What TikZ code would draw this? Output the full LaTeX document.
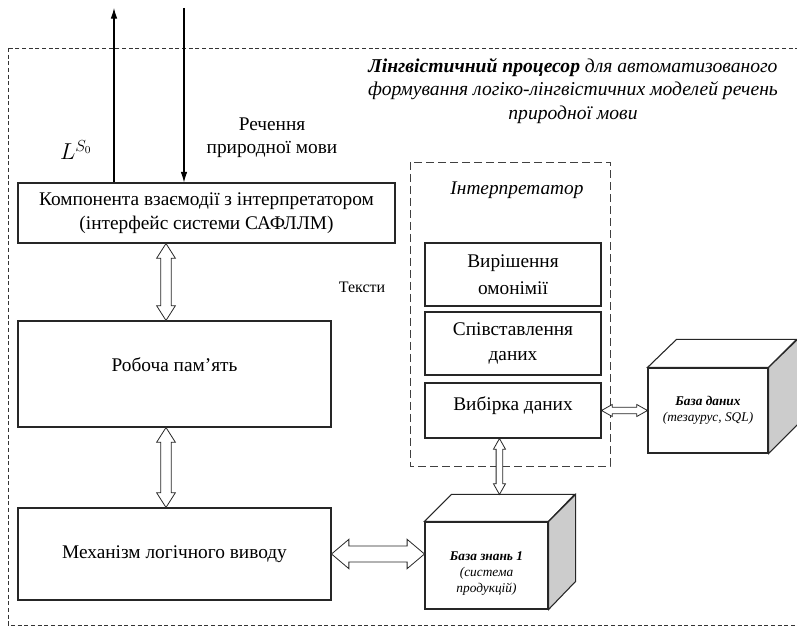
\documentclass[tikz,border=0pt]{standalone}
\usepackage{fontspec}
\setmainfont{Liberation Serif}
\usetikzlibrary{calc,arrows.meta}

\newcommand{\px}{0.75pt}

\tikzset{
	box/.style={draw=black!85, line width=0.8pt, fill=white, align=center, inner sep=2pt, font=\fontsize{14.5}{17.5}\selectfont},
	cubetext/.style={align=center, font=\fontsize{10}{12}\selectfont\itshape},
	side/.style={draw=black!85, line width=0.8pt},
	hollow/.style n args={3}{draw=black!85, fill=white, line width=0.6pt, to path={
		-- ($(\tikztostart)!#1!(\tikztotarget)!#2!90:(\tikztotarget)$)
		-- ($(\tikztostart)!#1!(\tikztotarget)!#3!90:(\tikztotarget)$)
		-- ($(\tikztotarget)!#1!(\tikztostart)!#3!-90:(\tikztostart)$)
		-- ($(\tikztotarget)!#1!(\tikztostart)!#2!-90:(\tikztostart)$)
		-- (\tikztotarget)
		-- ($(\tikztotarget)!#1!(\tikztostart)!#2!90:(\tikztostart)$)
		-- ($(\tikztotarget)!#1!(\tikztostart)!#3!90:(\tikztostart)$)
		-- ($(\tikztostart)!#1!(\tikztotarget)!#3!-90:(\tikztotarget)$)
		-- ($(\tikztostart)!#1!(\tikztotarget)!#2!-90:(\tikztotarget)$)
		-- cycle}},
}

\begin{document}
\begin{tikzpicture}[x=0.75pt, y=-0.75pt]
		\useasboundingbox (0,0) rectangle (797,627);
		\draw[black!80, line width=0.5pt, dash pattern=on 3pt off 2pt] (8,48) rectangle (830,625);
		\draw[black!75, line width=0.7pt, dash pattern=on 6pt off 3pt] (410,162) rectangle (610,466);

		\node(title) at (573,91) [align=center, font=\fontsize{14.7}{17.6}\selectfont\itshape] {\textbf{Лінгвістичний процесор} для автоматизованого\\формування логіко-лінгвістичних моделей речень\\природної мови};

		\node(comp) at (206.5,213) [box, minimum width=377*\px, minimum height=60*\px] {Компонента взаємодії з інтерпретатором\\(інтерфейс системи САФЛЛМ)};
		\node(mem) at (174.5,374) [box, minimum width=313*\px, minimum height=106*\px] {Робоча пам’ять\\[-4pt]};
		\node(mech) at (174.5,554) [box, minimum width=313*\px, minimum height=92*\px] {Механізм логічного виводу};

		\node(interp) at (517,190) [font=\fontsize{14.5}{17.5}\selectfont\itshape] {Інтерпретатор};
		\node(homon) at (513,274.5) [box, minimum width=176*\px, minimum height=63*\px, font=\fontsize{14.5}{20}\selectfont] {Вирішення\\омонімії};
		\node(match) at (513,343.5) [box, minimum width=176*\px, minimum height=63*\px, font=\fontsize{14.5}{19}\selectfont] {Співставлення\\даних};
		\node(sel) at (513,410.5) [box, minimum width=176*\px, minimum height=55*\px] {Вибірка даних\\[-7.5pt]};

		\node(texts) at (362,287) [font=\fontsize{12}{14}\selectfont] {Тексти};
		\node(sent) at (272,138) [align=center, font=\fontsize{14.5}{17.5}\selectfont] {Речення\\природної мови};
		\node(lang) at (76,150) [font=\fontsize{17}{20}\selectfont] {$L^{S_0}$};

		% cubes
		\node(kb) at (486.5,565.5) [box, minimum width=123*\px, minimum height=87*\px] {};
		\draw[side, fill=white] (kb.north west) -- ++(27,-27) -- ++(123,0) -- (kb.north east) -- cycle;
		\draw[side, fill=black!20] (kb.north east) -- ++(27,-27) -- ++(0,87) -- (kb.south east) -- cycle;
		\node at (kb) [cubetext, yshift=-6pt] {\textbf{База знань 1}\\(система\\продукцій)};

		\node(db) at (708,410.5) [box, minimum width=120*\px, minimum height=85*\px] {};
		\draw[side, fill=white] (db.north west) -- ++(29,-28) -- ++(120,0) -- (db.north east) -- cycle;
		\draw[side, fill=black!20] (db.north east) -- ++(29,-28) -- ++(0,85) -- (db.south east) -- cycle;
		\node at (db) [cubetext] {\textbf{База даних}\\(тезаурус, SQL)};

		\coordinate (out) at (114,8);
		\coordinate (in) at (184,8);
		\coordinate (ax) at (166,0);
		\coordinate (kbtop) at ($(kb.north west)+(75,-27)$);

		\draw[-{Latex[length=8pt,width=5pt]}, line width=0.8pt] (comp.north -| out) -- (out);
		\draw[-{Latex[length=8pt,width=5pt]}, line width=0.8pt] (in) -- (comp.north -| in);

		\draw[hollow={11pt}{7pt}{4pt}] (comp.south -| ax) to (mem.north -| ax);
		\draw[hollow={11pt}{7pt}{4pt}] (mem.south -| ax) to (mech.north -| ax);
		\draw[hollow={13pt}{11pt}{6pt}] (mech.east) to (kb.west |- mech.east);
		\draw[hollow={8pt}{4.5pt}{2.5pt}] (sel.east) to (db.west |- sel.east);
		\draw[hollow={8pt}{4.5pt}{2.5pt}] (sel.south -| kbtop) to (kbtop);
	\end{tikzpicture}
\end{document}
